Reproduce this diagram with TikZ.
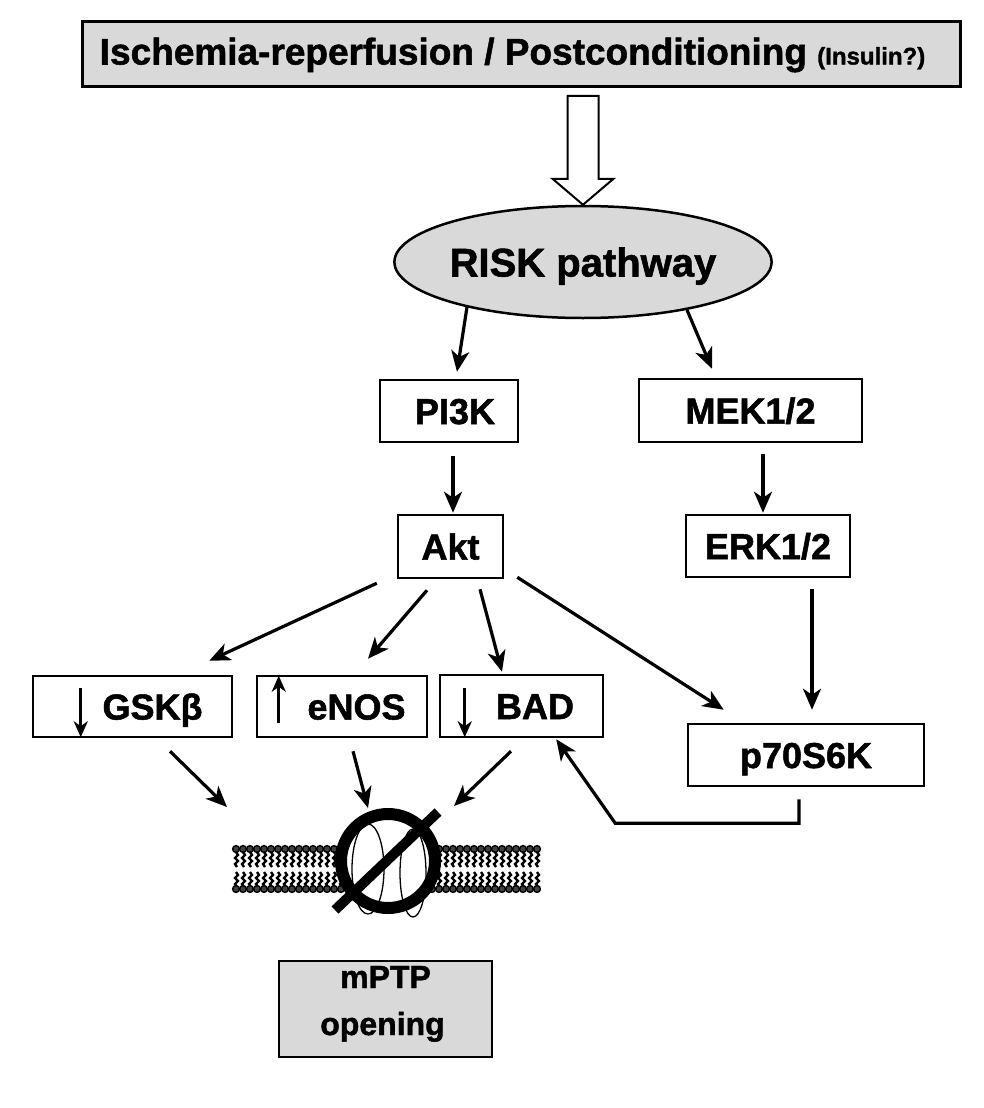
\documentclass[tikz,border=0pt]{standalone}
\usepackage{fontspec}
\setmainfont{Liberation Sans}[BoldFeatures={FakeBold=1.4}]
\usetikzlibrary{arrows.meta,calc,shapes.geometric}
\definecolor{boxgray}{HTML}{D9D9D9}
\tikzset{
  labbox/.style={draw, line width=2.5pt, inner sep=0pt, text height=26pt, text depth=0pt,
    font=\bfseries\fontsize{36}{40}\selectfont},
  arr/.style={line width=3.2pt, -{Stealth[length=21pt,width=18pt,inset=6pt]}},
  mini/.style={line width=3pt, -{Stealth[length=16pt,width=14pt,inset=5pt]}},
  tail/.style={line width=2.4pt, black},
  headgrp/.style={draw=black, line width=1.4pt, fill=black!75},
}
\begin{document}
\begin{tikzpicture}[x=1pt,y=-1pt]
\useasboundingbox (0,0) rectangle (983,1108);

% top box
\node (top) [draw, line width=3pt, fill=boxgray, minimum width=878pt, minimum height=64pt,
  inner sep=0pt, text height=27pt, text depth=6pt, font=\bfseries\fontsize{37}{40}\selectfont]
  at (521,54) {Ischemia-reperfusion / Postconditioning {\fontsize{24}{28}\selectfont (Insulin?)}\hspace*{17pt}};

% RISK ellipse
\node (risk) [ellipse, draw, line width=2.5pt, fill=boxgray, minimum width=360pt, minimum height=112pt,
  inner sep=0pt, text height=29pt, text depth=0pt, font=\bfseries\fontsize{40}{44}\selectfont]
  at (583,262) {RISK pathway};

% hollow arrow
\coordinate (ha) at (risk.north);
\draw[line width=2pt, fill=white, line join=miter]
  ($(ha)+(-15.5,-109)$) -- ($(ha)+(15.5,-109)$) -- ($(ha)+(15.5,-26)$) -- ($(ha)+(30.5,-26)$)
  -- (ha) -- ($(ha)+(-30.5,-26)$) -- ($(ha)+(-15.5,-26)$) -- cycle;

% boxes
\node (pi3k) [labbox, minimum width=138pt, minimum height=62pt] at (449,411) {\hspace*{12pt}PI3K};
\node (mek)  [labbox, minimum width=223pt, minimum height=63pt] at (750.5,410.5) {MEK1/2};
\node (akt)  [labbox, minimum width=105pt, minimum height=63pt] at (450.5,546.5) {Akt};
\node (erk)  [labbox, minimum width=164pt, minimum height=62pt] at (768,546) {ERK1/2};
\node (gsk)  [labbox, minimum width=199pt, minimum height=61pt] at (132.5,706.5) {\hspace*{40pt}GSKβ};
\node (enos) [labbox, minimum width=170pt, minimum height=61pt] at (342,706.5) {\hspace*{29pt}eNOS};
\node (bad)  [labbox, minimum width=163pt, minimum height=62pt] at (521.5,706) {\hspace*{27pt}BAD};
\node (p70)  [labbox, minimum width=236pt, minimum height=62pt] at (806,755) {p70S6K};
\node (mptp) [draw, line width=2.5pt, fill=boxgray, minimum width=213pt, minimum height=96pt, inner sep=0pt] at (385.5,1009) {};
\node (mptpa) [anchor=base, inner sep=0pt, font=\bfseries\fontsize{32}{36}\selectfont] at (385.5,988) {mPTP};
\node (mptpb) [anchor=base, inner sep=0pt, font=\bfseries\fontsize{32}{36}\selectfont] at (382.5,1035) {opening};

% inner small arrows
\draw[mini] ($(gsk.south west)+(49,-50)$) -- ($(gsk.south west)+(49,-1)$);
\draw[mini] ($(enos.north west)+(23,48)$) -- ($(enos.north west)+(23,1)$);
\draw[mini] ($(bad.south west)+(26,-50)$) -- ($(bad.south west)+(26,-1)$);

% connectors
\draw[arr] ($(risk.center)+(-116,45)$) -- ($(pi3k.north)+(8,-7)$);
\draw[arr] ($(risk.center)+(104,48)$) -- ($(mek.north)+(-38.5,-9)$);
\draw[arr] ($(pi3k.south)+(4,13)$) -- ($(akt.north)+(2.5,-1)$);
\draw[arr] ($(mek.south)+(12.5,11)$) -- ($(erk.north)+(-5,-1)$);
\draw[arr] ($(akt.south west)+(-20,4)$) -- ($(gsk.north east)+(-24,-14)$);
\draw[arr] ($(akt.south)+(-23.5,11)$) -- ($(enos.north)+(26,-16)$);
\draw[arr] ($(akt.south)+(29.5,10)$) -- ($(bad.north)+(-19.5,-2)$);
\draw[arr] ($(akt.south east)+(13,-2)$) -- ($(p70.north west)+(37,-13)$);
\draw[arr] ($(erk.south)+(44,11)$) -- ($(p70.north)+(6,-13)$);
\draw[arr, line join=miter] ($(p70.south)+(-7,12)$) |- ($(bad.south east)+(11,85)$) -- ($(bad.south east)+(-48,1)$);

% membrane
\coordinate (pore) at (388,861);
\foreach \x in {236,243,...,537} {
  \draw[tail] (\x,852) -- ++(2,3) -- ++(-3,3) -- ++(3,3) -- ++(-3,3) -- ++(2,3);
  \draw[tail] (\x,872) -- ++(2,3) -- ++(-3,3) -- ++(3,3) -- ++(-3,3) -- ++(2,3);
  \draw[headgrp] (\x,849) circle (3.4);
  \draw[headgrp] (\x,889) circle (3.4);
}
\fill[white] (pore) circle (50);
\draw[line width=1.3pt] ($(pore)+(-20,8)$) ellipse [x radius=16, y radius=45];
\draw[line width=1.3pt] ($(pore)+(25,12)$) ellipse [x radius=13, y radius=44];
\draw[line width=12pt] (pore) circle (47);
\draw[line width=10pt] ($(pore)+(-53,49)$) -- ($(pore)+(50,-49)$);

\draw[arr] ($(gsk.south)+(37.5,13)$) -- ($(pore)+(-161,-54)$);
\draw[arr] ($(enos.south)+(11,13)$) -- ($(pore)+(-20,-53)$);
\draw[arr] ($(bad.south)+(-10.5,13)$) -- ($(pore)+(66,-55)$);
\end{tikzpicture}
\end{document}
